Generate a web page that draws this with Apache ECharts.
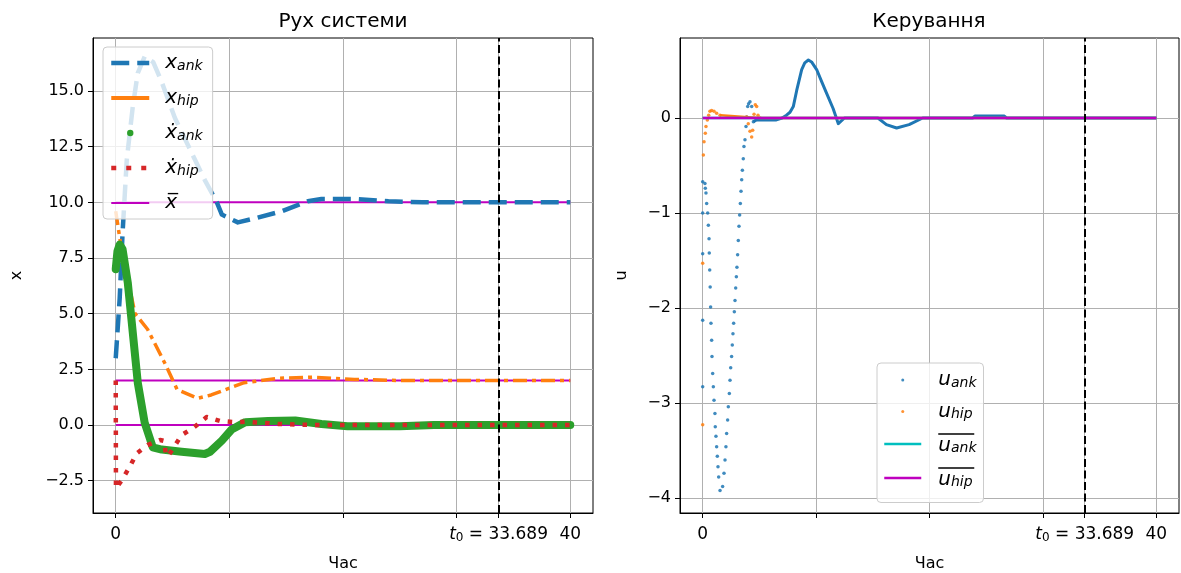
<!DOCTYPE html>
<html>
<head>
<meta charset="utf-8">
<script src="https://cdn.jsdelivr.net/npm/echarts@6/dist/echarts.min.js"></script>
<style>
  html, body { margin: 0; padding: 0; background: #fff; }
  #chart { width: 1181px; height: 573px; }
</style>
</head>
<body>
<div id="chart"></div>
<script>
const FONT = 'DejaVu Sans'
const T0 = 33.689

// axis ticks
const timeTicks = [0, 10, 20, 30, T0, 40]
const timeLabels = [0, T0, 40]
const xTicks = [-2.5, 0, 2.5, 5, 7.5, 10, 12.5, 15]
const uTicks = [-4, -3, -2, -1, 0]

// left panel: state trajectories
const xAnkT = [0, 0.35, 0.6, 0.97, 1.5, 1.94, 2.55, 3.3, 4.05, 5.2, 6.7, 7.84, 8.9, 9.34, 10.75, 12.0, 14.6, 16.9, 18.1, 21.1, 24.0, 27.0, 40]
const xAnkV = [3.0, 5.7, 8.6, 11.9, 14.3, 15.8, 16.55, 16.3, 15.4, 13.8, 12.2, 11.0, 10.0, 9.45, 9.1, 9.25, 9.6, 10.05, 10.15, 10.15, 10.05, 10.0, 10.0]

const xHipT = [0, 0.5, 1.7, 2.8, 4.3, 5.4, 7.2, 8.4, 11.3, 14.3, 17.3, 21.0, 25.0, 40]
const xHipV = [9.6, 7.9, 5.0, 4.3, 2.8, 1.6, 1.2, 1.35, 1.9, 2.1, 2.15, 2.05, 2.0, 2.0]

const xdAnkT = [0, 0.15, 0.35, 0.6, 1.06, 1.94, 2.55, 3.26, 4.05, 5.8, 7.84, 8.3, 9.34, 10.2, 11.4, 13.4, 15.8, 18.1, 20.4, 25.0, 28.0, 40]
const xdAnkV = [7.0, 7.8, 8.1, 7.9, 6.4, 1.9, 0.1, -1.0, -1.1, -1.2, -1.3, -1.2, -0.7, -0.2, 0.13, 0.18, 0.2, 0.05, -0.05, -0.05, 0.0, 0.0]

const xdHipT = [0, 0.02, 0.5, 1.2, 1.85, 2.8, 3.9, 4.3, 4.4, 4.6, 5.8, 6.9, 8.0, 9.2, 10.5, 11.5, 14.3, 17.3, 40]
const xdHipV = [2.0, -2.85, -2.5, -1.9, -1.27, -0.9, -0.67, -0.72, -1.35, -1.4, -0.45, -0.1, 0.36, 0.18, 0.13, 0.15, 0.05, 0.0, 0.0]

const xBarLevels = [10, 2, 0]
const barSpan = [0, 40]

// right panel: controls (sampled points)
const uAnkT = [0, 0, 0, 0, 0, 0.2, 0.23, 0.29, 0.35, 0.44, 0.5, 0.56, 0.58, 0.62, 0.66, 0.7, 0.73, 0.79, 0.82, 0.88, 0.94, 1.0, 1.08, 1.11, 1.17, 1.23, 1.29, 1.35, 1.41, 1.53,
  1.76, 1.88, 1.97, 2.05, 2.11, 2.2, 2.26, 2.35, 2.41, 2.47, 2.55, 2.61, 2.67, 2.73, 2.79, 2.85, 2.91, 2.97, 3.02, 3.08, 3.14, 3.2, 3.26, 3.32, 3.38, 3.44, 3.5, 3.58, 3.64, 3.73, 3.82, 3.88, 3.97, 4.05, 4.17, 4.32, 4.47]
const uAnkV = [-0.67, -1.0, -1.43, -2.13, -2.83, -0.69, -0.74, -0.79, -0.9, -1.0, -1.13, -1.27, -1.42, -1.6, -1.78, -1.99, -2.16, -2.34, -2.51, -2.69, -2.83, -2.97, -3.11, -3.25, -3.35, -3.46, -3.56, -3.67, -3.78, -3.92,
  -3.88, -3.74, -3.6, -3.46, -3.32, -3.18, -3.04, -2.9, -2.76, -2.63, -2.51, -2.39, -2.27, -2.16, -2.04, -1.92, -1.79, -1.67, -1.57, -1.44, -1.29, -1.14, -1.02, -0.9, -0.77, -0.65, -0.55, -0.43, -0.3, -0.23, -0.09, 0.01, 0.12, 0.15, 0.17, 0.12, -0.04]
// dense stretch of u_ank samples (reads as a solid trace)
const uAnkDenseT = [4.47, 4.74, 6.5, 7.0, 7.39, 7.7, 7.99, 8.29, 8.73, 9.0, 9.32, 9.6, 10.05, 10.5, 10.93, 11.5, 11.96, 12.5, 15.45, 16.2, 17.1, 18.2, 19.4, 23.8, 24.0, 26.6, 26.8, 40]
const uAnkDenseV = [-0.04, -0.02, -0.02, 0.0, 0.03, 0.06, 0.12, 0.29, 0.51, 0.58, 0.61, 0.59, 0.51, 0.38, 0.26, 0.1, -0.06, 0.0, 0.0, -0.07, -0.105, -0.07, 0.0, 0.0, 0.02, 0.02, 0.0, 0.0]

const uHipT = [0, 0, 0.06, 0.12, 0.23, 0.29, 0.41, 0.53, 0.64, 0.79, 1.0, 1.23, 1.53, 3.88, 4.02, 4.17, 4.32, 4.41, 4.53, 4.64, 4.76, 4.88, 5.06]
const uHipV = [-3.23, -1.53, -0.39, -0.25, -0.16, -0.09, -0.02, 0.03, 0.07, 0.08, 0.07, 0.05, 0.03, 0.01, -0.06, -0.14, -0.2, -0.13, 0.04, 0.14, 0.12, 0.03, 0.0]
const uHipDenseT = [1.53, 2.5, 3.7, 5.06, 40]
const uHipDenseV = [0.03, 0.02, 0.01, 0.0, 0.0]

const uBarLevel = 0

const zip = (ts, vs) => ts.map((t, i) => [t, vs[i]])
const minus = (s) => String(s).replace('-', '\u2212')

const C = {
  blue: '#1f77b4',
  orange: '#ff7f0e',
  green: '#2ca02c',
  red: '#d62728',
  magenta: '#bf00bf',
  cyan: '#00bfbf'
}

const textBase = { fontFamily: FONT, color: '#000' }

const labelRich = {
  v: { ...textBase, fontSize: 20, fontStyle: 'italic', verticalAlign: 'middle' },
  s: { ...textBase, fontSize: 14, fontStyle: 'italic', verticalAlign: 'bottom' }
}

const timeAxis = (gridIndex) => ({
  type: 'value',
  gridIndex,
  min: -2,
  max: 42,
  name: 'Час',
  nameLocation: 'middle',
  nameGap: 43,
  nameTextStyle: { ...textBase, fontSize: 16 },
  axisLine: { show: true, onZero: false, lineStyle: { color: '#000', width: 1 } },
  axisTick: { show: true, length: 5, customValues: timeTicks, lineStyle: { color: '#000', width: 1 } },
  axisLabel: {
    customValues: timeLabels,
    margin: 13,
    ...textBase,
    fontSize: 17,
    formatter: (v) => (Math.abs(v - T0) < 1e-6 ? '{t|t}{z|0}{n| = ' + T0 + '}' : String(v)),
    rich: {
      t: { ...textBase, fontSize: 17, fontStyle: 'italic', lineHeight: 17, verticalAlign: 'middle' },
      z: { ...textBase, fontSize: 12, height: 11, verticalAlign: 'bottom' },
      n: { ...textBase, fontSize: 17, lineHeight: 17, verticalAlign: 'middle' }
    }
  },
  splitLine: { show: true, lineStyle: { color: '#b0b0b0', width: 1 } }
})

const valueAxis = (gridIndex, name, min, max, ticks, fmt, nameGap) => ({
  type: 'value',
  gridIndex,
  min,
  max,
  name,
  nameLocation: 'middle',
  nameGap,
  nameTextStyle: { ...textBase, fontSize: 16 },
  axisLine: { show: true, onZero: false, lineStyle: { color: '#000', width: 1 } },
  axisTick: { show: true, length: 5, customValues: ticks, lineStyle: { color: '#000', width: 1 } },
  axisLabel: { customValues: ticks, margin: 9, ...textBase, fontSize: 16, formatter: fmt },
  splitLine: { show: true, lineStyle: { color: '#b0b0b0', width: 1 } }
})

const lineSeries = (name, data, color, width, type, extra = {}) => ({
  name,
  type: 'line',
  xAxisIndex: 0,
  yAxisIndex: 0,
  data,
  symbol: 'none',
  color,
  lineStyle: { color, width, type, cap: 'butt', join: 'round' },
  silent: true,
  ...extra
})

const leftLegendText = {
  x_ank: '{v|x}{s|ank}',
  x_hip: '{v|x}{s|hip}',
  xdot_ank: '{v|\u1E8B}{s|ank}',
  xdot_hip: '{v|\u1E8B}{s|hip}',
  x_bar: '{v|x\u0305}'
}
const rightLegendText = {
  u_ank: '{v|u}{s|ank}',
  u_hip: '{v|u}{s|hip}',
  u_ank_bar: '{bar| }\n{w|u}{t|ank}',
  u_hip_bar: '{bar| }\n{w|u}{t|hip}'
}

const t0Line = {
  silent: true,
  symbol: ['none', 'none'],
  label: { show: false },
  lineStyle: { color: '#000', width: 2, type: [8, 3.5] },
  data: [{ xAxis: T0 }]
}

const option = {
  animation: false,
  backgroundColor: '#fff',
  title: [
    { text: 'Рух системи', left: 343, top: 12, textAlign: 'center', padding: 0,
      textStyle: { ...textBase, fontSize: 20, fontWeight: 'normal' } },
    { text: 'Керування', left: 929, top: 12, textAlign: 'center', padding: 0,
      textStyle: { ...textBase, fontSize: 20, fontWeight: 'normal' } }
  ],
  grid: [
    { left: 93, top: 38, width: 500, height: 475, show: true, borderColor: '#000', borderWidth: 1, outerBoundsMode: 'none' },
    { left: 680, top: 38, width: 499, height: 475, show: true, borderColor: '#000', borderWidth: 1, outerBoundsMode: 'none' }
  ],
  xAxis: [timeAxis(0), timeAxis(1)],
  yAxis: [
    valueAxis(0, 'x', -3.95, 17.38, xTicks, (v) => minus(v.toFixed(1)), 68),
    valueAxis(1, 'u', -4.158, 0.842, uTicks, (v) => minus(Math.round(v)), 50)
  ],
  legend: [
    {
      orient: 'vertical',
      left: 103,
      top: 47,
      itemWidth: 38,
      itemHeight: 8,
      itemGap: 15,
      padding: [6, 10, 6, 6],
      backgroundColor: 'rgba(255,255,255,0.8)',
      borderColor: '#cccccc',
      borderWidth: 1,
      borderRadius: 4,
      selectedMode: false,
      data: [
        { name: 'x_ank', itemStyle: { opacity: 0 }, lineStyle: { width: 4.5, type: [18, 8] } },
        { name: 'x_hip', itemStyle: { opacity: 0 }, lineStyle: { width: 4, type: 'solid' } },
        { name: 'xdot_ank', lineStyle: { opacity: 0 } },
        { name: 'xdot_hip', itemStyle: { opacity: 0 }, lineStyle: { width: 4.5, type: [5, 10] } },
        { name: 'x_bar', itemStyle: { opacity: 0 }, lineStyle: { width: 2 } }
      ],
      formatter: (name) => leftLegendText[name],
      textStyle: {
        padding: [0, 0, 0, 11],
        rich: {
          v: { ...labelRich.v, lineHeight: 24 },
          s: { ...labelRich.s, height: 18 }
        }
      }
    },
    {
      orient: 'vertical',
      left: 877,
      top: 363,
      itemWidth: 37,
      itemHeight: 3,
      itemGap: 11.5,
      padding: [7, 7, 13, 6],
      backgroundColor: 'rgba(255,255,255,0.8)',
      borderColor: '#cccccc',
      borderWidth: 1,
      borderRadius: 4,
      selectedMode: false,
      data: [
        { name: 'u_ank' },
        { name: 'u_hip' },
        { name: 'u_ank_bar', itemStyle: { opacity: 0 }, lineStyle: { width: 2.5 } },
        { name: 'u_hip_bar', itemStyle: { opacity: 0 }, lineStyle: { width: 2.5 } }
      ],
      formatter: (name) => rightLegendText[name],
      textStyle: {
        padding: [0, 0, 0, 12],
        rich: {
          v: { ...labelRich.v, lineHeight: 24 },
          s: { ...labelRich.s, height: 18 },
          w: { ...labelRich.v, lineHeight: 20 },
          t: { ...labelRich.s, height: 14 },
          bar: { width: 36, height: 1.5, lineHeight: 3, fontSize: 2, backgroundColor: '#000', verticalAlign: 'middle' }
        }
      }
    }
  ],
  series: [
    // left panel
    ...xBarLevels.map((lvl) =>
      lineSeries('x_bar', [[barSpan[0], lvl], [barSpan[1], lvl]], C.magenta, 2, 'solid')
    ),
    lineSeries('x_ank', zip(xAnkT, xAnkV), C.blue, 4.5, [18, 8]),
    lineSeries('x_hip', zip(xHipT, xHipV), C.orange, 3.5, [14, 5, 4, 5]),
    lineSeries('xdot_ank', zip(xdAnkT, xdAnkV), C.green, 8, 'solid', {
      lineStyle: { color: C.green, width: 8, cap: 'round', join: 'round' }
    }),
    lineSeries('xdot_hip', zip(xdHipT, xdHipV), C.red, 4.5, [4.5, 8], { markLine: t0Line }),

    // right panel
    {
      name: 'u_ank',
      type: 'scatter',
      xAxisIndex: 1,
      yAxisIndex: 1,
      data: zip(uAnkT, uAnkV),
      symbol: 'circle',
      symbolSize: 3.5,
      itemStyle: { color: C.blue, opacity: 0.85 },
      silent: true
    },
    lineSeries('u_ank_dense', zip(uAnkDenseT, uAnkDenseV), C.blue, 3, 'solid', { xAxisIndex: 1, yAxisIndex: 1 }),
    {
      name: 'u_hip',
      type: 'scatter',
      xAxisIndex: 1,
      yAxisIndex: 1,
      data: zip(uHipT, uHipV),
      symbol: 'circle',
      symbolSize: 3.5,
      itemStyle: { color: C.orange, opacity: 0.85 },
      silent: true
    },
    lineSeries('u_hip_dense', zip(uHipDenseT, uHipDenseV), C.orange, 2.5, 'solid', { xAxisIndex: 1, yAxisIndex: 1 }),
    lineSeries('u_ank_bar', [[barSpan[0], uBarLevel], [barSpan[1], uBarLevel]], C.cyan, 2.5, 'solid', { xAxisIndex: 1, yAxisIndex: 1 }),
    lineSeries('u_hip_bar', [[barSpan[0], uBarLevel], [barSpan[1], uBarLevel]], C.magenta, 2.5, 'solid', {
      xAxisIndex: 1, yAxisIndex: 1, markLine: t0Line
    })
  ]
}

const chart = echarts.init(document.getElementById('chart'))
chart.setOption(option)
window.addEventListener('resize', () => chart.resize())
</script>
</body>
</html>
